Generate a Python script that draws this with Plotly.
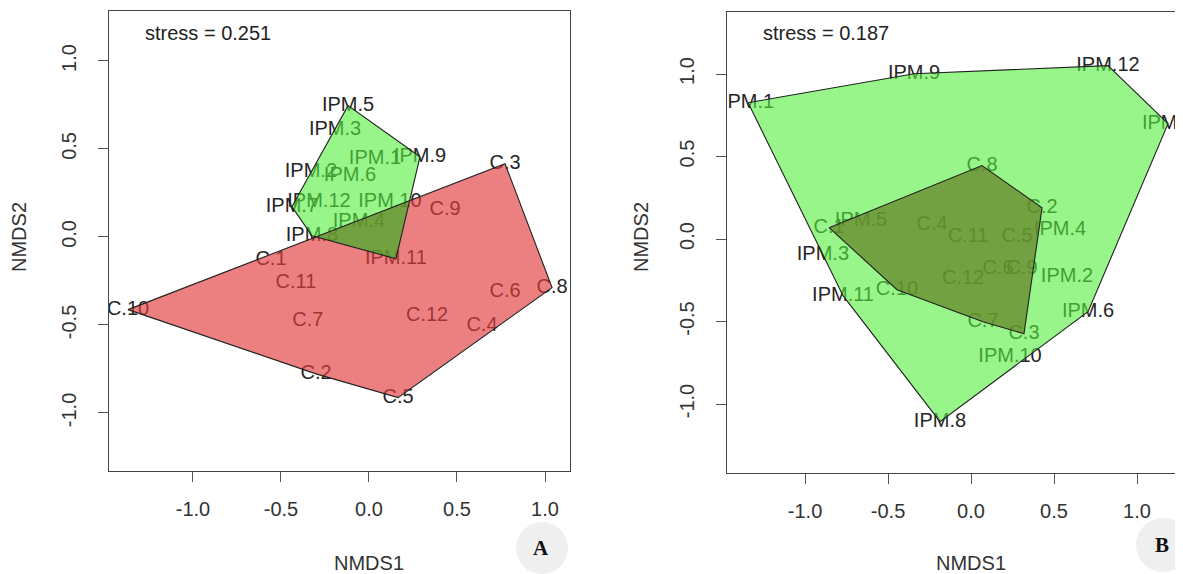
import plotly.graph_objects as go

# ---------------- data ----------------
c_labels = ["C.%d" % i for i in range(1, 13)]
ipm_labels = ["IPM.%d" % i for i in range(1, 13)]

# Panel A (stress = 0.251)
a_c_x = [-0.557, -0.301, 0.773, 0.642, 0.165, 0.773, -0.347, 1.040, 0.432, -1.369, -0.415, 0.330]
a_c_y = [-0.130, -0.778, 0.416, -0.504, -0.913, -0.311, -0.476, -0.288, 0.155, -0.413, -0.260, -0.448]
a_ipm_x = [0.034, -0.330, -0.193, -0.057, -0.119, -0.108, -0.438, -0.324, 0.290, 0.119, 0.153, -0.284]
a_ipm_y = [0.445, 0.371, 0.609, 0.087, 0.746, 0.348, 0.172, 0.007, 0.456, 0.200, -0.124, 0.200]

# Panel B (stress = 0.187)
b_c_x = [-0.855, 0.428, 0.319, -0.235, 0.277, 0.163, 0.072, 0.066, 0.307, -0.446, -0.018, -0.048]
b_c_y = [0.069, 0.190, -0.574, 0.087, 0.014, -0.180, -0.501, 0.445, -0.180, -0.307, 0.014, -0.240]
b_ipm_x = [-1.343, 0.578, -0.892, 0.536, -0.663, 0.705, 1.187, -0.187, -0.343, 0.235, -0.771, 0.825]
b_ipm_y = [0.826, -0.228, -0.095, 0.057, 0.111, -0.440, 0.699, -1.107, 1.002, -0.713, -0.343, 1.051]

stress_texts = ["stress = 0.251", "stress = 0.187"]
tick_vals = [-1.0, -0.5, 0.0, 0.5, 1.0]
tick_text = ["-1.0", "-0.5", "0.0", "0.5", "1.0"]
panel_letters = ["A", "B"]

# ---------------- helpers ----------------
def convex_hull(xs, ys):
    pts = sorted(set(zip(xs, ys)))
    def cross(o, a, b):
        return (a[0]-o[0])*(b[1]-o[1]) - (a[1]-o[1])*(b[0]-o[0])
    lower, upper = [], []
    for p in pts:
        while len(lower) >= 2 and cross(lower[-2], lower[-1], p) <= 0:
            lower.pop()
        lower.append(p)
    for p in reversed(pts):
        while len(upper) >= 2 and cross(upper[-2], upper[-1], p) <= 0:
            upper.pop()
        upper.append(p)
    return lower[:-1] + upper[:-1]

def clip_polygon(subject, clipper):
    # Sutherland-Hodgman, clipper convex CCW
    def inside(p, a, b):
        return (b[0]-a[0])*(p[1]-a[1]) - (b[1]-a[1])*(p[0]-a[0]) >= 0
    def inter(p, q, a, b):
        x1, y1 = p; x2, y2 = q; x3, y3 = a; x4, y4 = b
        den = (x1-x2)*(y3-y4) - (y1-y2)*(x3-x4)
        t = ((x1-x3)*(y3-y4) - (y1-y3)*(x3-x4)) / den
        return (x1 + t*(x2-x1), y1 + t*(y2-y1))
    out = list(subject)
    n = len(clipper)
    for i in range(n):
        a, b = clipper[i], clipper[(i+1) % n]
        inp = out
        out = []
        if not inp:
            break
        s = inp[-1]
        for e in inp:
            if inside(e, a, b):
                if not inside(s, a, b):
                    out.append(inter(s, e, a, b))
                out.append(e)
            elif inside(s, a, b):
                out.append(inter(s, e, a, b))
            s = e
    return out

def closed(poly):
    xs = [p[0] for p in poly] + [poly[0][0]]
    ys = [p[1] for p in poly] + [poly[0][1]]
    return xs, ys

TEXT_COL = "#262626"
RED_FILL = "rgba(226,60,60,0.65)"
GREEN_FILL = "rgba(83,238,60,0.6)"
TINT_FILL = "rgba(47,87,17,0.3)"
EDGE = "#202020"
FONT = "Liberation Sans, Arial, sans-serif"

fig = go.Figure()

panels = [
    ("x", "y", a_c_x, a_c_y, a_ipm_x, a_ipm_y),
    ("x2", "y2", b_c_x, b_c_y, b_ipm_x, b_ipm_y),
]

for xa, ya, cx, cy, ix, iy in panels:
    # labels first (polygons are drawn over them, as in the R plot)
    fig.add_trace(go.Scatter(x=ix, y=iy, text=ipm_labels, mode="text",
                             textposition="middle center",
                             textfont=dict(family=FONT, size=20, color=TEXT_COL),
                             xaxis=xa, yaxis=ya, hoverinfo="skip", showlegend=False))
    fig.add_trace(go.Scatter(x=cx, y=cy, text=c_labels, mode="text",
                             textposition="middle center",
                             textfont=dict(family=FONT, size=20, color=TEXT_COL),
                             xaxis=xa, yaxis=ya, hoverinfo="skip", showlegend=False))
    hull_c = convex_hull(cx, cy)
    hull_i = convex_hull(ix, iy)
    hx, hy = closed(hull_c)
    fig.add_trace(go.Scatter(x=hx, y=hy, mode="lines", fill="toself",
                             fillcolor=RED_FILL, line=dict(width=0, color="rgba(0,0,0,0)"),
                             xaxis=xa, yaxis=ya, hoverinfo="skip", showlegend=False))
    gx, gy = closed(hull_i)
    fig.add_trace(go.Scatter(x=gx, y=gy, mode="lines", fill="toself",
                             fillcolor=GREEN_FILL, line=dict(width=0, color="rgba(0,0,0,0)"),
                             xaxis=xa, yaxis=ya, hoverinfo="skip", showlegend=False))
    inter_poly = clip_polygon(hull_c, hull_i)
    if len(inter_poly) >= 3:
        ox, oy = closed(inter_poly)
        fig.add_trace(go.Scatter(x=ox, y=oy, mode="lines", fill="toself",
                                 fillcolor=TINT_FILL, line=dict(width=0, color="rgba(0,0,0,0)"),
                                 xaxis=xa, yaxis=ya, hoverinfo="skip", showlegend=False))
    for px_, py_ in ((hx, hy), (gx, gy)):
        fig.add_trace(go.Scatter(x=px_, y=py_, mode="lines",
                                 line=dict(width=1.1, color=EDGE),
                                 xaxis=xa, yaxis=ya, hoverinfo="skip", showlegend=False))

# the page body has an 8px margin: lay out in reference pixels, shifted by it
OFF = 8
W, H = 1183 - OFF, 574 - OFF
def px(x):
    return (x - OFF) / W
def py(y):
    return 1 - (y - OFF) / H

axis_common = dict(
    showgrid=False, zeroline=False, showline=True, linecolor="#444", linewidth=1,
    ticks="outside", ticklen=10, tickcolor="#555", tickwidth=1,
    tickvals=tick_vals, ticktext=tick_text,
    tickfont=dict(family=FONT, size=20, color="#333"),
)

fig.update_layout(
    width=W, height=H,
    margin=dict(l=0, r=0, t=0, b=0),
    paper_bgcolor="white", plot_bgcolor="white",
    showlegend=False,
    xaxis=dict(domain=[px(109), px(570)], range=[-1.477, 1.142], anchor="y",
               mirror=True, ticklabelstandoff=10, **axis_common),
    yaxis=dict(domain=[py(471), py(11)], range=[-1.330, 1.284], anchor="x",
               mirror=True, tickangle=-90, ticklabelstandoff=14, **axis_common),
    xaxis2=dict(domain=[px(727), 1.0], range=[-1.470, 1.277], anchor="y2",
                mirror=True, ticklabelstandoff=10, **axis_common),
    yaxis2=dict(domain=[py(473), py(12)], range=[-1.418, 1.376], anchor="x2",
                mirror=False, tickangle=-90, ticklabelstandoff=14, **axis_common),
)

annotations = []
title_font = dict(family=FONT, size=20, color="#333")
for xc, yc in ((369, 563), (971, 563)):
    annotations.append(dict(text="NMDS1", x=px(xc), y=py(yc), xref="paper", yref="paper",
                            showarrow=False, xanchor="center", yanchor="middle", font=title_font))
for xc in (19, 641):
    annotations.append(dict(text="NMDS2", x=px(xc), y=py(237), xref="paper", yref="paper",
                            textangle=-90, showarrow=False, xanchor="center", yanchor="middle",
                            font=title_font))
for txt, xl in zip(stress_texts, (143, 761)):
    annotations.append(dict(text=txt, x=px(xl), y=py(33), xref="paper", yref="paper",
                            showarrow=False, xanchor="left", yanchor="middle",
                            font=dict(family=FONT, size=20, color="#222")))

shapes = []
for letter, (cxp, cyp, r) in zip(panel_letters, ((542, 548, 26), (1163, 545, 27))):
    shapes.append(dict(type="circle", xref="paper", yref="paper",
                       x0=px(cxp - r), x1=px(cxp + r), y0=py(cyp + r), y1=py(cyp - r),
                       fillcolor="#efefef", line=dict(width=0), layer="below"))
    annotations.append(dict(text="<b>%s</b>" % letter, x=px(cxp - 1), y=py(cyp), xref="paper", yref="paper",
                            showarrow=False, xanchor="center", yanchor="middle",
                            font=dict(family="Liberation Serif, Times New Roman, serif", size=21, color="#111")))

fig.update_layout(annotations=annotations, shapes=shapes)

fig.write_html("out.html")
